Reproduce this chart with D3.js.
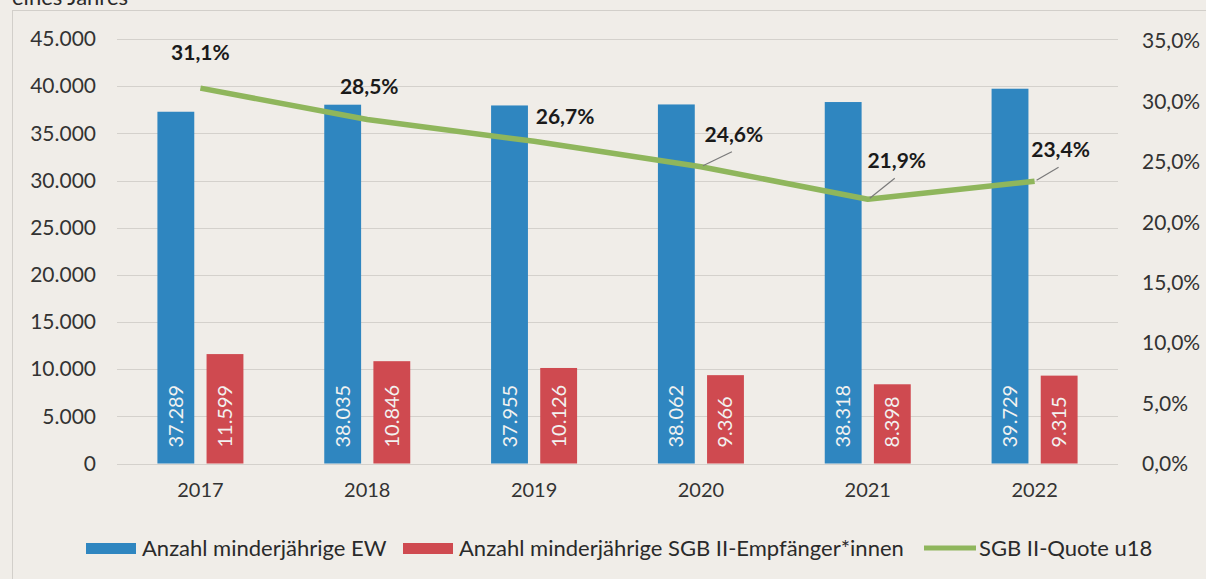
<!DOCTYPE html>
<html>
<head>
<meta charset="utf-8">
<script src="https://cdn.jsdelivr.net/npm/d3@7"></script>
<style>
  body { margin: 0; background: #f0ede8; }
  svg { display: block; }
  text { font-family: Lato, "Open Sans", sans-serif; }
</style>
</head>
<body>
<div id="chart"></div>
<script>
// data
const years = ['2017', '2018', '2019', '2020', '2021', '2022'];
const ewValues = [37289, 38035, 37955, 38062, 38318, 39729];
const sgbValues = [11599, 10846, 10126, 9366, 8398, 9315];
const quoteValues = [31.1, 28.5, 26.7, 24.6, 21.9, 23.4];
const leftTicks = [0, 5000, 10000, 15000, 20000, 25000, 30000, 35000, 40000, 45000];
const rightTicks = [0, 5, 10, 15, 20, 25, 30, 35];
const seriesNames = ['Anzahl minderjährige EW', 'Anzahl minderjährige SGB II-Empfänger*innen', 'SGB II-Quote u18'];

// label placement for the quote values (offset from the point, leader line or not)
const quoteLabelPos = [
  { dx: 0, dy: -35, leader: false },
  { dx: 2, dy: -33, leader: false },
  { dx: 31, dy: -24, leader: false },
  { dx: 33, dy: -32, leader: true },
  { dx: 29, dy: -38, leader: true },
  { dx: 26, dy: -31, leader: true }
];

const colors = { ew: '#2f86c0', sgb: '#cf4a50', quote: '#8fb65c' };

const W = 1206, H = 579;
const margin = { top: 39, right: 88, bottom: 116, left: 117 };
const width = W - margin.left - margin.right;
const height = H - margin.top - margin.bottom;

const svg = d3.select('#chart')
  .append('svg')
  .attr('width', W)
  .attr('height', H);

// frame of the chart box
svg.append('rect')
  .attr('x', 12.5).attr('y', 10.5)
  .attr('width', W + 20).attr('height', H + 20)
  .attr('fill', 'none')
  .attr('stroke', '#d2cfca')
  .attr('stroke-width', 1);

// heading, cut off at the top like in the scan
svg.append('text')
  .attr('x', 12).attr('y', 5)
  .attr('font-size', 22)
  .attr('fill', '#2a2a2a')
  .text('eines Jahres');

const g = svg.append('g')
  .attr('transform', `translate(${margin.left},${margin.top})`);

const x = d3.scaleBand()
  .domain(years)
  .range([0, width])
  .paddingInner(0)
  .paddingOuter(0);

const x1 = d3.scaleBand()
  .domain(['ew', 'sgb'])
  .range([x.bandwidth() / 2 - 43, x.bandwidth() / 2 + 43])
  .paddingInner(0.25);

const yLeft = d3.scaleLinear().domain([0, 45000]).range([height + 0.5, 0]);
const yRight = d3.scaleLinear().domain([0, 35]).range([height + 1, 2]);

// gridlines
g.append('g')
  .selectAll('line')
  .data(leftTicks)
  .enter()
  .append('line')
  .attr('x1', 0)
  .attr('x2', width)
  .attr('y1', d => Math.round(yLeft(d)) + 0.5)
  .attr('y2', d => Math.round(yLeft(d)) + 0.5)
  .attr('stroke', '#d4d1cc')
  .attr('stroke-width', 1.2);

// left axis
const leftAxis = g.append('g')
  .call(d3.axisLeft(yLeft).tickValues(leftTicks)
    .tickFormat(d => d3.format(',')(d).replace(/,/g, '.'))
    .tickSize(0).tickPadding(21));
leftAxis.select('.domain').remove();
leftAxis.selectAll('text')
  .attr('font-size', 21)
  .attr('fill', '#333')
  .style('font-family', 'Lato, sans-serif');

// right axis
const rightAxis = g.append('g')
  .attr('transform', `translate(${width},0)`)
  .call(d3.axisRight(yRight).tickValues(rightTicks)
    .tickFormat(d => d3.format('.1f')(d).replace('.', ',') + '%')
    .tickSize(0).tickPadding(24));
rightAxis.select('.domain').remove();
rightAxis.selectAll('text')
  .attr('font-size', 21)
  .attr('fill', '#333')
  .style('font-family', 'Lato, sans-serif');

// bottom axis
const bottomAxis = g.append('g')
  .attr('transform', `translate(0,${height})`)
  .call(d3.axisBottom(x).tickSize(0).tickPadding(20));
bottomAxis.select('.domain').remove();
bottomAxis.selectAll('text')
  .attr('font-size', 20)
  .attr('fill', '#333')
  .style('font-family', 'Lato, sans-serif');

// bars
const rows = years.map((year, i) => ({ year, ew: ewValues[i], sgb: sgbValues[i] }));
const groups = g.selectAll('.year')
  .data(rows)
  .enter()
  .append('g')
  .attr('transform', d => `translate(${x(d.year)},0)`);

const barData = d => ['ew', 'sgb'].map(key => ({ key, value: d[key] }));

groups.selectAll('rect')
  .data(barData)
  .enter()
  .append('rect')
  .attr('x', d => x1(d.key))
  .attr('y', d => yLeft(d.value))
  .attr('width', x1.bandwidth())
  .attr('height', d => yLeft(0) - yLeft(d.value))
  .attr('fill', d => colors[d.key]);

// value labels inside the bars
groups.selectAll('.val')
  .data(barData)
  .enter()
  .append('text')
  .attr('transform', d => `translate(${x1(d.key) + x1.bandwidth() / 2 + 7},${yLeft(0) - 16}) rotate(-90)`)
  .attr('text-anchor', 'start')
  .attr('font-size', 20)
  .attr('fill', '#f2f2f0')
  .text(d => d3.format(',')(d.value).replace(/,/g, '.'));

// quote line
const cx = d => x(d) + x.bandwidth() / 2;
const line = d3.line()
  .x((d, i) => cx(years[i]))
  .y(d => yRight(d));

g.append('path')
  .datum(quoteValues)
  .attr('d', line)
  .attr('fill', 'none')
  .attr('stroke', colors.quote)
  .attr('stroke-width', 5.5)
  .attr('stroke-linejoin', 'round');

// leader lines and quote labels
quoteValues.forEach((v, i) => {
  const px = cx(years[i]);
  const py = yRight(v);
  const pos = quoteLabelPos[i];
  if (pos.leader) {
    g.append('line')
      .attr('x1', px + 2).attr('y1', py - 1)
      .attr('x2', px + pos.dx - 2).attr('y2', py + pos.dy + 17)
      .attr('stroke', '#7a7a7a')
      .attr('stroke-width', 1.2);
  }
  g.append('text')
    .attr('x', px + pos.dx)
    .attr('y', py + pos.dy + 7)
    .attr('text-anchor', 'middle')
    .attr('font-size', 21)
    .attr('font-weight', 'bold')
    .attr('fill', '#1a1a1a')
    .text(d3.format('.1f')(v).replace('.', ',') + '%');
});

// legend
const legend = svg.append('g').attr('transform', 'translate(0,548)');
const legendItems = [
  { name: seriesNames[0], color: colors.ew, type: 'rect', x: 86 },
  { name: seriesNames[1], color: colors.sgb, type: 'rect', x: 403 },
  { name: seriesNames[2], color: colors.quote, type: 'line', x: 924 }
];
legendItems.forEach(item => {
  if (item.type === 'rect') {
    legend.append('rect')
      .attr('x', item.x).attr('y', -5)
      .attr('width', 50).attr('height', 11)
      .attr('fill', item.color);
  } else {
    legend.append('line')
      .attr('x1', item.x).attr('x2', item.x + 52)
      .attr('y1', 0).attr('y2', 0)
      .attr('stroke', item.color)
      .attr('stroke-width', 5);
  }
  legend.append('text')
    .attr('x', item.type === 'rect' ? item.x + 56 : item.x + 55)
    .attr('y', 8)
    .attr('font-size', 22)
    .attr('fill', '#2a2a2a')
    .text(item.name);
});
</script>
</body>
</html>
